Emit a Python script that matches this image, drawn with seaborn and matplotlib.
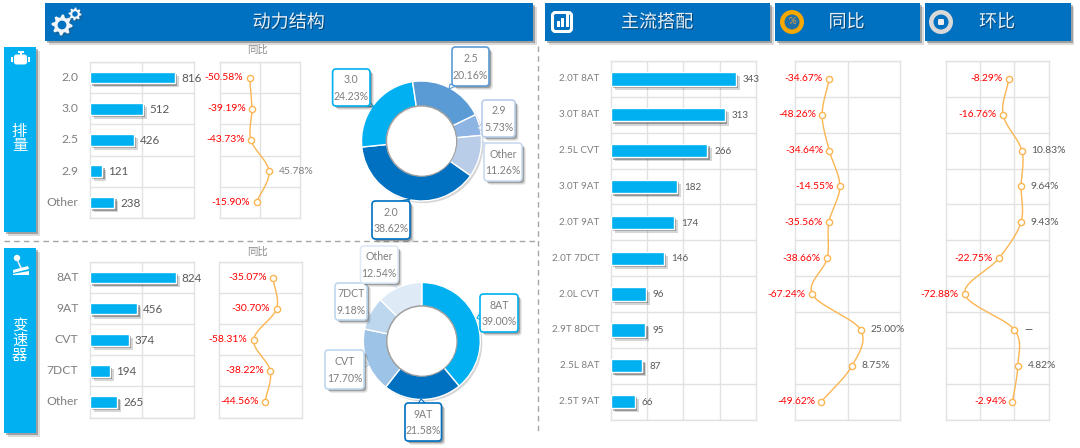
import numpy as np
import pandas as pd
import matplotlib
matplotlib.use("Agg")
import matplotlib.pyplot as plt
import matplotlib.patheffects as pe
from matplotlib.patches import Rectangle, FancyBboxPatch, Circle, Polygon
import seaborn as sns

# ---------- data ----------
disp_cats = ["2.0", "3.0", "2.5", "2.9", "Other"]
disp_sales = [816, 512, 426, 121, 238]
disp_yoy = [-50.58, -39.19, -43.73, 45.78, -15.90]
disp_share = [38.62, 24.23, 20.16, 5.73, 11.26]

trans_cats = ["8AT", "9AT", "CVT", "7DCT", "Other"]
trans_sales = [824, 456, 374, 194, 265]
trans_yoy = [-35.07, -30.70, -58.31, -38.22, -44.56]
trans_share = [39.00, 21.58, 17.70, 9.18, 12.54]

combo_cats = ["2.0T 8AT", "3.0T 8AT", "2.5L CVT", "3.0T 9AT", "2.0T 9AT",
              "2.0T 7DCT", "2.0L CVT", "2.9T 8DCT", "2.5L 8AT", "2.5T 9AT"]
combo_sales = [343, 313, 266, 182, 174, 146, 96, 95, 87, 66]
combo_yoy = [-34.67, -48.26, -34.64, -14.55, -35.56, -38.66, -67.24, 25.00, 8.75, -49.62]
combo_mom = [-8.29, -16.76, 10.83, 9.64, 9.43, -22.75, -72.88, 0.0, 4.82, -2.94]

disp_colors = ["#0070C0", "#00B0F0", "#5B9BD5", "#8EB4E3", "#B9CDE9"]
trans_colors = ["#00B0F0", "#0070C0", "#9DC3E6", "#BDD7EE", "#DEEAF6"]

BLUE = "#0070C0"
CYAN = "#00B0F0"
GRID = "#E2E2E2"
ORANGE = "#FBB552"
W, H = 1080, 448

sns.set_theme(style="white")
plt.rcParams["font.family"] = ["Lato", "Noto Sans CJK SC", "DejaVu Sans"]

fig = plt.figure(figsize=(W / 100, H / 100), dpi=100, facecolor="white")


def soft_shadow(d=2.0, color="#444444", a=0.28):
    return [pe.SimplePatchShadow(offset=(d * 1.35, -d * 1.35), shadow_rgbFace=color, alpha=a * 0.5),
            pe.SimplePatchShadow(offset=(d * 0.8, -d * 0.8), shadow_rgbFace=color, alpha=a),
            pe.Normal()]


def axes_px(x0, y0, x1, y1, **kw):
    return fig.add_axes([x0 / W, 1 - y1 / H, (x1 - x0) / W, (y1 - y0) / H], **kw)


def style_grid(ax, n, xticks):
    ax.set_ylim(n - 0.5, -0.5)
    ax.set_xticks(xticks)
    ax.set_yticks(np.arange(n + 1) - 0.5)
    ax.tick_params(length=0, labelbottom=False, labelleft=False)
    ax.set_xlabel("")
    ax.set_ylabel("")
    ax.set_axisbelow(True)
    ax.grid(True, color=GRID, lw=1.0)
    for s in ax.spines.values():
        s.set_visible(True)
        s.set_color(GRID)
        s.set_linewidth(1.0)


def bar_panel(box, cats, vals, xmax, xticks, fs, lab_fs, gap):
    ax = axes_px(*box)
    df = pd.DataFrame({"cat": cats, "val": vals})
    sns.barplot(data=df, x="val", y="cat", orient="h", color=CYAN, saturation=1,
                width=0.37, ax=ax, zorder=3)
    for p in ax.patches:
        p.set_path_effects(soft_shadow(2.2, "#333333", 0.4))
    ax.set_xlim(0, xmax)
    style_grid(ax, len(cats), xticks)
    for i, (c, v) in enumerate(zip(cats, vals)):
        ax.annotate(str(v), (v, i), xytext=(gap, -0.5), textcoords="offset points",
                    ha="left", va="center", fontsize=fs, color="#595959", zorder=5,
                    annotation_clip=False)
        ax.annotate(c, (0, i), xytext=(-8, 0), textcoords="offset points",
                    ha="right", va="center", fontsize=lab_fs, color="#7F7F7F",
                    annotation_clip=False)
    return ax


def smooth_curve(xv, yv, k=24):
    xv, yv = np.asarray(xv, float), np.asarray(yv, float)
    mx = np.gradient(xv)
    xs, ys = [], []
    for i in range(len(xv) - 1):
        t = np.linspace(0, 1, k)
        h00 = 2 * t**3 - 3 * t**2 + 1
        h10 = t**3 - 2 * t**2 + t
        h01 = -2 * t**3 + 3 * t**2
        h11 = t**3 - t**2
        xs.append(h00 * xv[i] + h10 * mx[i] + h01 * xv[i + 1] + h11 * mx[i + 1])
        ys.append(yv[i] + t * (yv[i + 1] - yv[i]))
    return np.concatenate(xs), np.concatenate(ys)


def line_panel(box, vals, xlim, xticks, fs, pos_color):
    ax = axes_px(*box)
    n = len(vals)
    rows = np.arange(n)
    sx, sy = smooth_curve(vals, rows)
    sns.lineplot(x=sx, y=sy, sort=False, estimator=None, color=ORANGE, lw=1.0, ax=ax, zorder=3)
    sns.scatterplot(x=vals, y=rows, s=20, facecolor="white", edgecolor=ORANGE, linewidth=1.0,
                    ax=ax, zorder=4, clip_on=False)
    ax.set_xlim(*xlim)
    style_grid(ax, n, xticks)
    for i, v in enumerate(vals):
        if v == 0:
            ax.annotate("—", (v, i), xytext=(7, 0), textcoords="offset points", ha="left",
                        va="center", fontsize=fs, color="#404040", annotation_clip=False, zorder=5)
        elif v < 0:
            ax.annotate(f"{v:.2f}%", (v, i), xytext=(-4.5, 0), textcoords="offset points", ha="right",
                        va="center", fontsize=fs, color="#FF0000", annotation_clip=False, zorder=5)
        else:
            ax.annotate(f"{v:.2f}%", (v, i), xytext=(7, 0), textcoords="offset points", ha="left",
                        va="center", fontsize=fs, color=pos_color, annotation_clip=False, zorder=5)
    return ax


def donut(cx, cy, r, inner, shares, colors, start):
    ax = axes_px(cx - r, cy - r, cx + r, cy + r)
    ratio = inner / r
    ax.add_patch(Circle((0.035, -0.035), 1.0, fc="#000000", alpha=0.16, ec="none", zorder=0, clip_on=False))
    ax.add_patch(Circle((0, 0), ratio, fc="white", ec="none", zorder=0.5))
    ax.pie(shares, colors=colors, startangle=start, counterclock=False, radius=1,
           wedgeprops=dict(width=1 - ratio, edgecolor="white", linewidth=1.0))
    ax.add_patch(Circle((0, 0), ratio + 0.01, fc="none", ec="#A0A0A0", lw=1.1, zorder=6, clip_on=False))
    ax.add_patch(Circle((0.012, -0.012), ratio - 0.012, fc="white", ec="none", zorder=7))
    ax.set_xlim(-1, 1)
    ax.set_ylim(-1, 1)
    return ax


# ---------- panels ----------
bar_panel((89.5, 62, 194, 218), disp_cats, disp_sales, 1000, [500], 8.4, 8.7, 4.4)
line_panel((219.5, 62, 300, 218), disp_yoy, (-200, 200), [0], 7.5, "#7F7F7F")
bar_panel((89.5, 262, 194, 417.5), trans_cats, trans_sales, 1000, [500], 8.4, 8.7, 4.4)
line_panel((219, 262, 302, 417.5), trans_yoy, (-100, 0), [], 7.5, "#7F7F7F")

bar_panel((610.6, 61, 756.3, 419.5), combo_cats, combo_sales, 400, [100, 200, 300], 7.1, 7.1, 5)
line_panel((795, 61, 900, 419.5), combo_yoy, (-100, 100), [0], 7.4, "#595959")
line_panel((946.3, 61, 1048.6, 419.5), combo_mom, (-100, 50), [-50, 0], 7.4, "#595959")

donut(421.5, 141, 60, 34.5, disp_share, disp_colors, -35.2)
donut(421.8, 341, 58.5, 34.5, trans_share, trans_colors, 90)

# ---------- overlay (frame furniture) ----------
ov = fig.add_axes([0, 0, 1, 1], zorder=20)
ov.set_xlim(0, W)
ov.set_ylim(H, 0)
ov.axis("off")
ov.patch.set_alpha(0)

TXT_SH = [pe.withSimplePatchShadow(offset=(0.8, -0.8), shadow_rgbFace="#003050", alpha=0.6)]

for (x0, x1, title, tx) in [(44.8, 533, "动力结构", 288.6), (545, 770, "主流搭配", 657),
                            (775, 920, "同比", 846.5), (924.6, 1070.6, "环比", 997)]:
    ov.add_patch(Rectangle((x0, 3), x1 - x0, 38, fc=BLUE, ec="none", path_effects=soft_shadow(2.0, "#333333", 0.35)))
    ov.text(tx, 22, title, color="#E8F1F8", fontsize=13, ha="center", va="center",
            path_effects=TXT_SH)

for (y0, y1, txt, ty) in [(47, 232, "排\n量", 139), (248, 433, "变\n速\n器", 341)]:
    ov.add_patch(Rectangle((3.5, y0), 32.5, y1 - y0, fc=CYAN, ec="none", path_effects=soft_shadow(2.2, "#333333", 0.35)))
    ov.text(19.5, ty, txt, color="white", fontsize=11, ha="center", va="center", linespacing=1.05)

ov.plot([4, 538], [241, 241], color="#A6A6A6", lw=1.0, ls=(0, (4, 3)))
ov.plot([538, 538], [46, 434], color="#A6A6A6", lw=1.0, ls=(0, (4, 3)))

ov.text(257, 50, "同比", color="#8C8C8C", fontsize=7.5, ha="center", va="center")
ov.text(257, 252, "同比", color="#8C8C8C", fontsize=7.5, ha="center", va="center")


def gear(cx, cy, r, teeth=8):
    ang = np.linspace(0, 2 * np.pi, teeth * 4, endpoint=False)
    rad = np.tile([r, r, r * 0.74, r * 0.74], teeth)
    ov.add_patch(Polygon(np.c_[cx + rad * np.cos(ang), cy + rad * np.sin(ang)], fc="#F2F6FA", ec="none",
                         path_effects=[pe.withSimplePatchShadow(offset=(1, -1), alpha=0.35)]))
    ov.add_patch(Circle((cx, cy), r * 0.42, fc=BLUE, ec="none"))


gear(62, 25, 10.5)
gear(75, 14, 6.5)

# bar chart icon
ov.add_patch(FancyBboxPatch((552.5, 12.5), 19, 19, boxstyle="round,pad=0,rounding_size=3", fc=BLUE, ec="white", lw=2.2))
for bx, bh in [(556.5, 6), (561, 9), (565.5, 13)]:
    ov.add_patch(Rectangle((bx, 27.5 - bh), 3, bh, fc="white", ec="none"))

# percent icon
ov.add_patch(Circle((792, 22), 12, fc="#F5A800", ec="none"))
ov.add_patch(Circle((792, 22), 7.5, fc="#1F6FA8", ec="none"))
ov.text(792, 22, "%", color="#E8A33A", fontsize=7, ha="center", va="center")

# ring icon
ov.add_patch(Circle((941, 22), 12, fc="#D9D9D9", ec="none"))
ov.add_patch(Circle((941, 22), 7.5, fc=BLUE, ec="none"))
ov.add_patch(FancyBboxPatch((938, 19), 6, 6, boxstyle="round,pad=0,rounding_size=1.2", fc="#EDEDED", ec="none"))

# engine icon
ov.add_patch(FancyBboxPatch((14, 54.5), 13, 10, boxstyle="round,pad=0,rounding_size=2.5", fc="white", ec="none"))
ov.add_patch(Rectangle((17.5, 51), 6, 2.2, fc="white", ec="none"))
ov.add_patch(Rectangle((19.5, 52), 2, 3, fc="white", ec="none"))
ov.add_patch(Rectangle((11, 57), 2.2, 5, fc="white", ec="none"))
ov.add_patch(Rectangle((27.8, 57), 2.2, 5, fc="white", ec="none"))

# gear lever icon
ov.add_patch(Circle((17, 258), 3.2, fc="white", ec="none"))
ov.add_patch(Polygon([[16.5, 260], [18, 260], [22, 268], [20, 268]], fc="#DDEEF8", ec="none"))
ov.add_patch(Polygon([[13, 270], [28, 266], [29, 269], [13, 273]], fc="white", ec="none"))
ov.add_patch(Polygon([[13, 274], [29, 271], [29, 275], [13, 275]], fc="white", ec="none"))

# ---------- callouts ----------
callouts = [
    (452, 47, 489, 86, "2.5", disp_share[2], disp_colors[2], (450, 84, 456, 86, 449, 89)),
    (332.6, 69, 370, 106, "3.0", disp_share[1], CYAN, (368, 100, 366, 106, 374, 107)),
    (482, 100, 515, 137, "2.9", disp_share[3], "#B9CDE9", (483, 122, 483, 132, 478, 128)),
    (484, 143, 522, 181, "Other", disp_share[4], "#C9DAF0", (485, 146, 490, 144, 482, 142)),
    (372, 201, 410, 239, "2.0", disp_share[0], BLUE, (396, 202, 408, 202, 410, 199)),
    (480, 294, 518, 332, "8AT", trans_share[0], CYAN, (481, 312, 481, 320, 477, 318)),
    (405, 403, 441.5, 441, "9AT", trans_share[1], BLUE, (418, 404, 426, 404, 421, 399)),
    (325, 350, 364, 389, "CVT", trans_share[2], "#BDD7EE", (363, 360, 363, 368, 369, 365)),
    (335, 283, 367, 320, "7DCT", trans_share[3], "#BDD7EE", (366, 308, 366, 316, 370, 316)),
    (360.5, 246, 398, 283, "Other", trans_share[4], "#DEEAF6", (385, 282, 395, 282, 397, 288)),
]
for x0, y0, x1, y1, name, share, col, tail in callouts:
    pts = np.array(tail, float).reshape(-1, 2)
    ov.add_patch(Polygon(pts, fc="white", ec=col, lw=0.8, zorder=4.5))
    ov.add_patch(FancyBboxPatch((x0, y0), x1 - x0, y1 - y0, boxstyle="round,pad=0,rounding_size=3.5",
                                fc="white", ec=col, lw=1.2, zorder=5,
                                path_effects=soft_shadow(1.9, "#444444", 0.4)))
    ov.text((x0 + x1) / 2, y0 + (y1 - y0) * 0.29, name, color="#7F7F7F", fontsize=7.6,
            ha="center", va="center", zorder=6)
    ov.text((x0 + x1) / 2, y0 + (y1 - y0) * 0.73, f"{share:.2f}%", color="#7F7F7F", fontsize=7.6,
            ha="center", va="center", zorder=6)

fig.savefig("out.png", dpi=100, facecolor="white")
